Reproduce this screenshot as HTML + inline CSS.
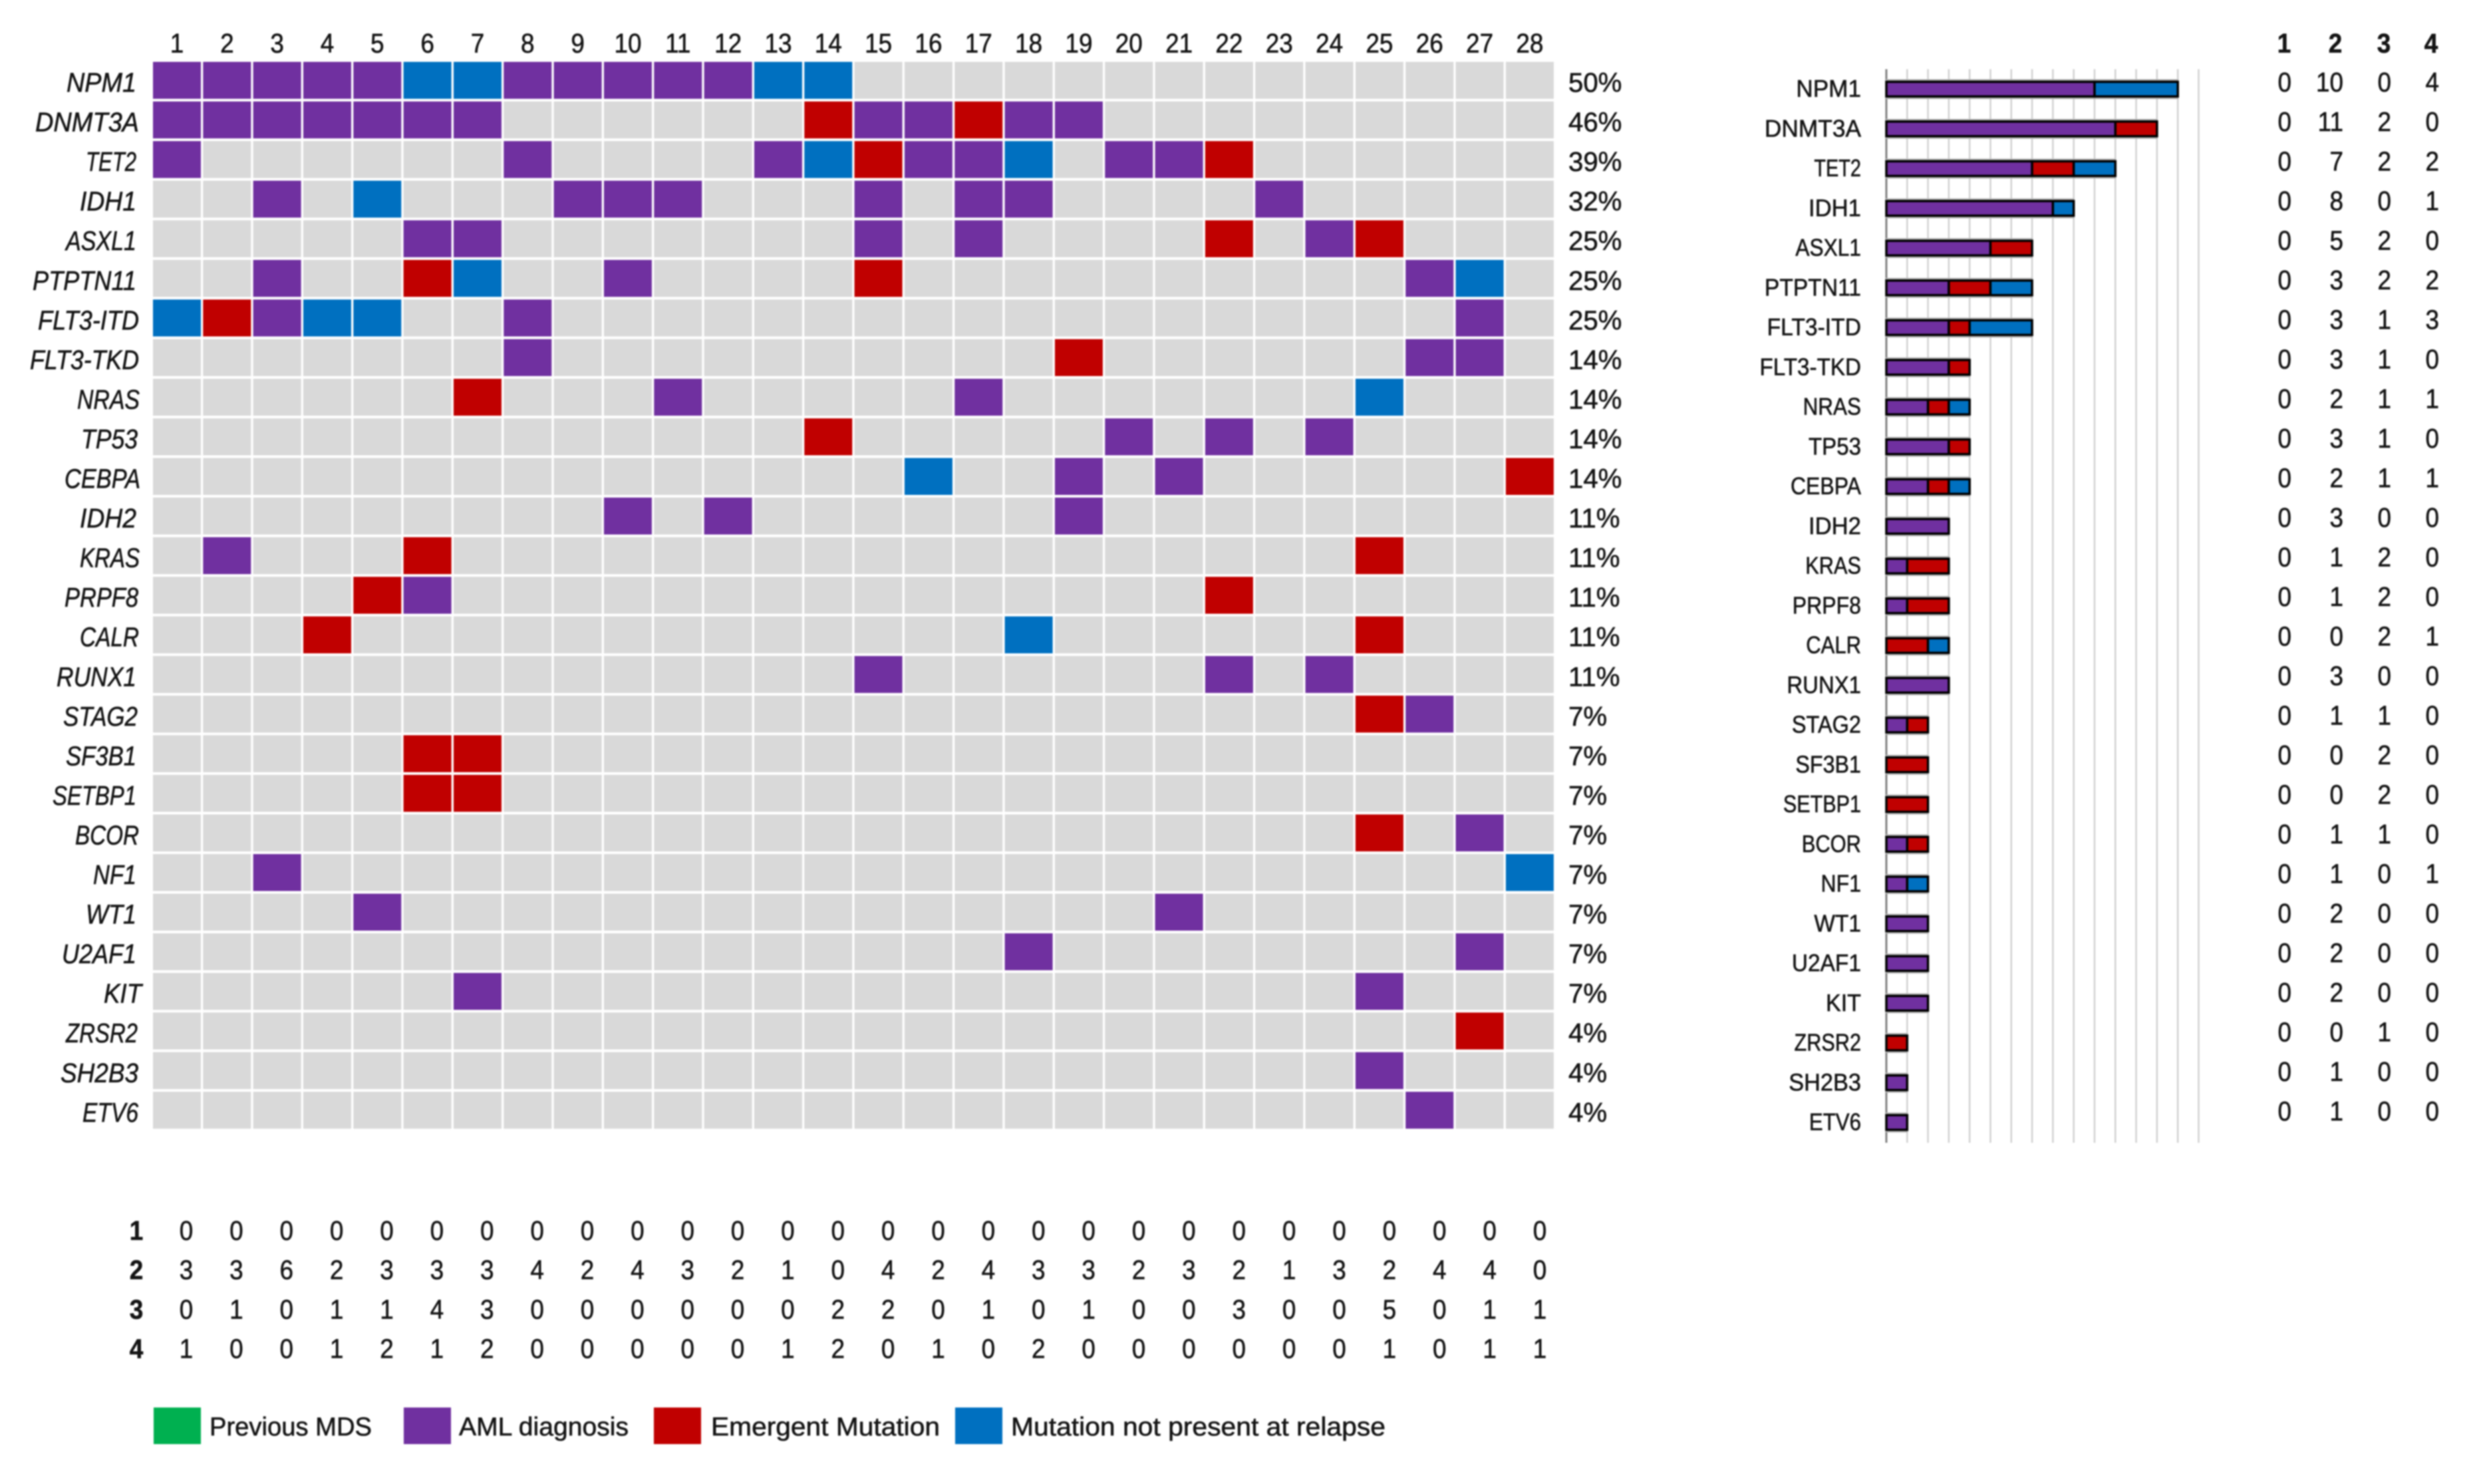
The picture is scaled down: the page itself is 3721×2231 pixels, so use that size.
<!DOCTYPE html>
<html lang="en">
<head>
<meta charset="utf-8">
<title>Mutation oncoprint</title>
<style>
html,body{margin:0;padding:0;background:#fff;width:3721px;height:2231px;overflow:hidden}
svg{display:block;filter:blur(1.1px)}
text{font-family:"Liberation Sans",sans-serif;fill:#141414;stroke:#141414;stroke-width:.6px}
</style>
</head>
<body>
<svg id="chart" xmlns="http://www.w3.org/2000/svg" width="3721" height="2231" viewBox="0 0 3721 2231">
  <g id="heatmap"></g>
  <g id="bars"></g>
  <g id="tables"></g>
  <g id="legend">
    <g>
      <rect x="231" y="2116" width="71" height="55" fill="#00B050"/>
      <text x="315" y="2158" font-size="39" textLength="244" lengthAdjust="spacingAndGlyphs">Previous MDS</text>
    </g>
    <g>
      <rect x="607" y="2116" width="71" height="55" fill="#7030A0"/>
      <text x="690" y="2158" font-size="39" textLength="255" lengthAdjust="spacingAndGlyphs">AML diagnosis</text>
    </g>
    <g>
      <rect x="983" y="2116" width="71" height="55" fill="#C00000"/>
      <text x="1069" y="2158" font-size="39" textLength="344" lengthAdjust="spacingAndGlyphs">Emergent Mutation</text>
    </g>
    <g>
      <rect x="1436" y="2116" width="71" height="55" fill="#0070C0"/>
      <text x="1520" y="2158" font-size="39" textLength="563" lengthAdjust="spacingAndGlyphs">Mutation not present at relapse</text>
    </g>
  </g>
</svg>
<script>
// ---- data ----
const genes = ["NPM1","DNMT3A","TET2","IDH1","ASXL1","PTPTN11","FLT3-ITD","FLT3-TKD","NRAS","TP53","CEBPA","IDH2","KRAS","PRPF8","CALR","RUNX1","STAG2","SF3B1","SETBP1","BCOR","NF1","WT1","U2AF1","KIT","ZRSR2","SH2B3","ETV6"];
const patients = [1,2,3,4,5,6,7,8,9,10,11,12,13,14,15,16,17,18,19,20,21,22,23,24,25,26,27,28];
const percents = ["50%","46%","39%","32%","25%","25%","25%","14%","14%","14%","14%","11%","11%","11%","11%","11%","7%","7%","7%","7%","7%","7%","7%","7%","4%","4%","4%"];
// A = AML diagnosis, E = emergent mutation, N = not present at relapse, . = none
const mutationRows = [
  "AAAAANNAAAAANN..............",
  "AAAAAAA......EAAEAA.........",
  "A......A....ANEAAN.AAE......",
  "..A.N...AAA...A.AA....A.....",
  ".....AA.......A.A....E.AE...",
  "..A..EN..A....E..........AN.",
  "NEANN..A..................A.",
  ".......A..........E......AA.",
  "......E...A.....A.......N...",
  ".............E.....A.A.A....",
  "...............N..A.A......E",
  ".........A.A......A.........",
  ".A...E..................E...",
  "....EA...............E......",
  "...E.............N......E...",
  "..............A......A.A....",
  "........................EA..",
  ".....EE.....................",
  ".....EE.....................",
  "........................E.A.",
  "..A........................N",
  "....A...............A.......",
  ".................A........A.",
  "......A.................A...",
  "..........................E.",
  "........................A...",
  ".........................A.."
];
const prevCounts     = [0,0,0,0,0,0,0,0,0,0,0,0,0,0,0,0,0,0,0,0,0,0,0,0,0,0,0];
const amlCounts      = [10,11,7,8,5,3,3,3,2,3,2,3,1,1,0,3,1,0,0,1,1,2,2,2,0,1,1];
const emergentCounts = [0,2,2,0,2,2,1,1,1,1,1,0,2,2,2,0,1,2,2,1,0,0,0,0,1,0,0];
const absentCounts   = [4,0,2,1,0,2,3,0,1,0,1,0,0,0,1,0,0,0,0,0,1,0,0,0,0,0,0];
const barTicks = [0,1,2,3,4,5,6,7,8,9,10,11,12,13,14,15];
const perPatientPrev     = [0,0,0,0,0,0,0,0,0,0,0,0,0,0,0,0,0,0,0,0,0,0,0,0,0,0,0,0];
const perPatientAml      = [3,3,6,2,3,3,3,4,2,4,3,2,1,0,4,2,4,3,3,2,3,2,1,3,2,4,4,0];
const perPatientEmergent = [0,1,0,1,1,4,3,0,0,0,0,0,0,2,2,0,1,0,1,0,0,3,0,0,5,0,1,1];
const perPatientAbsent   = [1,0,0,1,2,1,2,0,0,0,0,0,1,2,0,1,0,2,0,0,0,0,0,0,1,0,1,1];
const categoryHeaders = [1,2,3,4];

// ---- label layout (not data): ink extents of the gene names, keyed by name ----
const labelExtent = {
  "NPM1":[100,205],"DNMT3A":[53,209],"TET2":[129,205],"IDH1":[120,205],"ASXL1":[99,205],
  "PTPTN11":[49,205],"FLT3-ITD":[57,209],"FLT3-TKD":[45,209],"NRAS":[116,210],"TP53":[122,207],
  "CEBPA":[97,211],"IDH2":[120,205],"KRAS":[120,210],"PRPF8":[97,208],"CALR":[120,209],
  "RUNX1":[85,205],"STAG2":[95,207],"SF3B1":[99,205],"SETBP1":[79,205],"BCOR":[113,209],
  "NF1":[140,205],"WT1":[129,205],"U2AF1":[93,205],"KIT":[156,213],"ZRSR2":[99,207],
  "SH2B3":[91,208],"ETV6":[124,208]
};

// ---- scales ----
const NS = "http://www.w3.org/2000/svg";
const colors = {A:"#7030A0",E:"#C00000",N:"#0070C0"};
const cellX = i => 230 + 75.33 * i;
const cellY = r => 93 + 59.55 * r;
const barX = v => 2836 + 31.3 * v;
const barY = r => 134 + 59.75 * r;
const headerColX = [3434, 3511, 3584, 3655];
const countColRight = [3445, 3523, 3595, 3667];

function mk(parent, tag, attrs, txt){
  const el = document.createElementNS(NS, tag);
  for (const k in attrs) el.setAttribute(k, attrs[k]);
  if (txt !== undefined) el.textContent = txt;
  parent.appendChild(el);
  return el;
}
function textAt(parent, x, y, size, anchor, sx, str, extra){
  const a = Object.assign({transform:`translate(${x},${y}) scale(${sx},1)`, "font-size":size, "text-anchor":anchor}, extra || {});
  return mk(parent, "text", a, str);
}
function fitted(parent, x, y, size, width, str, extra){
  const a = Object.assign({x:x, y:y, "font-size":size, textLength:width, lengthAdjust:"spacingAndGlyphs"}, extra || {});
  return mk(parent, "text", a, str);
}

const hm = document.getElementById("heatmap");
const bars = document.getElementById("bars");
const tables = document.getElementById("tables");

// patient headers
patients.forEach((p,i)=>{
  const t = textAt(hm, cellX(i)+36, 79, 41, "middle", 0.9, String(p));
  
  
});

// oncoprint rows
genes.forEach((g,r)=>{
  const ext = labelExtent[g] || [100,205];
  const label = fitted(hm, ext[0], cellY(r)+45, 41, ext[1]-ext[0], g, {"font-style":"italic"});
  
  
  patients.forEach((p,i)=>{
    const code = mutationRows[r][i];
    const c = mk(hm, "rect", {x:cellX(i), y:cellY(r), width:72, height:55.5, fill:colors[code] || "#D9D9D9"});
    
    
  });
  const pct = textAt(hm, 2358, cellY(r)+45, 41, "start", 0.98, percents[r]);
  
  
});

// bar chart gridlines + axis
barTicks.forEach(v=>{
  const l = mk(bars, "line", {x1:barX(v), x2:barX(v), y1:104, y2:1718, stroke: v===0 ? "#7f7f7f" : "#cfcfcf", "stroke-width": v===0 ? 3 : 2.4});
  
  
});

// stacked bars
genes.forEach((g,r)=>{
  const ext = labelExtent[g] || [100,205];
  const w = (ext[1]-ext[0]) * 0.93;
  const label = fitted(bars, 2798-w, barY(r)+11.5, 36, w, g, {fill:"#262626", stroke:"#262626"});
  
  
  const total = prevCounts[r]+amlCounts[r]+emergentCounts[r]+absentCounts[r];
  const halo = mk(bars, "rect", {x:barX(0)-1, y:barY(r)-15, width:barX(total)-barX(0)+2, height:30, fill:"#b4b4b4"});
  
  
  const series = [[prevCounts[r],"#00B050"],[amlCounts[r],colors.A],[emergentCounts[r],colors.E],[absentCounts[r],colors.N]];
  let acc = 0;
  series.forEach(([val,col])=>{
    if (val > 0){
      const b = mk(bars, "rect", {x:barX(acc), y:barY(r)-11, width:barX(acc+val)-barX(acc), height:22, fill:col, stroke:"#000", "stroke-width":3.5});
      
      
    }
    acc += val;
  });
});

// right-hand count table
categoryHeaders.forEach((h,c)=>{
  const t = textAt(tables, headerColX[c], 79, 41, "middle", 0.9, String(h), {"font-weight":"bold"});
  
  
});
genes.forEach((g,r)=>{
  [prevCounts,amlCounts,emergentCounts,absentCounts].forEach((arr,c)=>{
    const t = textAt(tables, countColRight[c], 137.5 + 59.5*r, 41, "end", 0.9, String(arr[r]));
    
    
  });
});

// bottom per-patient table
[perPatientPrev,perPatientAml,perPatientEmergent,perPatientAbsent].forEach((arr,r)=>{
  const y = 1864 + 59.2*r;
  const h = textAt(tables, 205, y, 41, "middle", 0.9, String(categoryHeaders[r]), {"font-weight":"bold"});
  
  
  arr.forEach((v,i)=>{
    const t = textAt(tables, 280 + 75.37*i, y, 41, "middle", 0.9, String(v));
    
    
  });
});
</script>
</body>
</html>
